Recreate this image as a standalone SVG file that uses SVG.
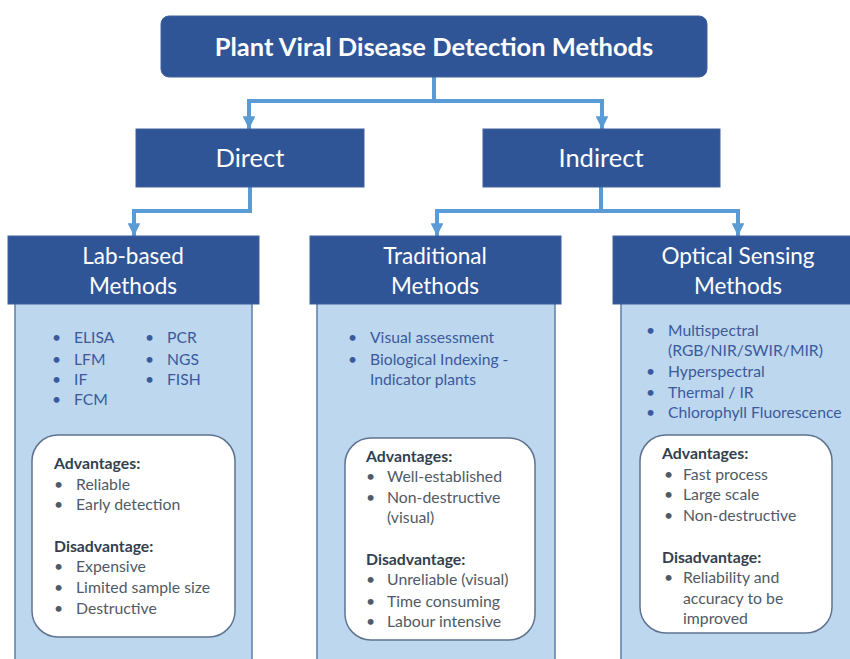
<svg xmlns="http://www.w3.org/2000/svg" width="850" height="659" viewBox="0 0 850 659">
<defs>
<marker id="arr" viewBox="0 0 10 10" refX="10" refY="5" markerWidth="3.2" markerHeight="3.2" orient="auto" markerUnits="strokeWidth">
<path d="M0,0 L10,5 L0,10 Z" fill="#5B9BD5"/>
</marker>
<style>
.hdr{fill:#2F5597;stroke:#41619E;stroke-width:1}
.panel{fill:#BDD7EE;stroke:#5E7FA8;stroke-width:1.5}
.wbox{fill:#FFFFFF;stroke:#5F7390;stroke-width:1.5}
.conn{fill:none;stroke:#5B9BD5;stroke-width:4;stroke-linejoin:miter}
text{font-family:Lato,"Open Sans","Liberation Sans",sans-serif}
.t1{font-size:25.5px;font-weight:bold;fill:#FFFFFF;text-anchor:middle}
.t2{font-size:25.5px;fill:#FFFFFF;text-anchor:middle}
.t3{font-size:22.5px;fill:#FFFFFF;text-anchor:middle}
.li{font-size:15.7px;fill:#3A5A9C}
.bh{font-size:15.8px;font-weight:bold;fill:#333F50}
.bi{font-size:15.8px;fill:#505A66}
</style>
</defs>
<rect width="850" height="659" fill="#FFFFFF"/>
<g id="connectors">
<path class="conn" d="M434,77 V101 M249,101 H602"/>
<path class="conn" d="M249,99 V129" marker-end="url(#arr)"/>
<path class="conn" d="M602,99 V129" marker-end="url(#arr)"/>
<path class="conn" d="M250,187 V211 H134 V236" marker-end="url(#arr)"/>
<path class="conn" d="M601,187 V211 M435,211 H738"/>
<path class="conn" d="M437,209 V236" marker-end="url(#arr)"/>
<path class="conn" d="M738,209 V236" marker-end="url(#arr)"/>
</g>
<g id="title">
<rect class="hdr" x="161" y="16" width="546" height="61" rx="8"/>
<text class="t1" x="434" y="56">Plant Viral Disease Detection Methods</text>
</g>
<g id="direct">
<rect class="hdr" x="136" y="129" width="228" height="58"/>
<text class="t2" x="250" y="167">Direct</text>
</g>
<g id="indirect">
<rect class="hdr" x="483" y="129" width="237" height="58"/>
<text class="t2" x="601" y="167">Indirect</text>
</g>
<g id="lab">
<rect class="panel" x="15" y="300" width="237" height="380"/>
<rect class="hdr" x="8" y="236" width="251" height="68"/>
<text class="t3" x="133" y="264">Lab-based</text>
<text class="t3" x="133" y="294">Methods</text>
<g class="li">
<text x="52" y="343">•</text><text x="74" y="343">ELISA</text>
<text x="52" y="365">•</text><text x="74" y="365">LFM</text>
<text x="52" y="385">•</text><text x="74" y="385">IF</text>
<text x="52" y="405">•</text><text x="74" y="405">FCM</text>
<text x="145" y="343">•</text><text x="167" y="343">PCR</text>
<text x="145" y="365">•</text><text x="167" y="365">NGS</text>
<text x="145" y="385">•</text><text x="167" y="385">FISH</text>
</g>
<rect class="wbox" x="32" y="435" width="203" height="202" rx="26"/>
<text class="bh" x="54" y="469">Advantages:</text>
<g class="bi">
<text x="54" y="490">•</text><text x="76" y="490">Reliable</text>
<text x="54" y="510">•</text><text x="76" y="510">Early detection</text>
</g>
<text class="bh" x="54" y="552">Disadvantage:</text>
<g class="bi">
<text x="54" y="572">•</text><text x="76" y="572">Expensive</text>
<text x="54" y="593">•</text><text x="76" y="593">Limited sample size</text>
<text x="54" y="614">•</text><text x="76" y="614">Destructive</text>
</g>
</g>
<g id="traditional">
<rect class="panel" x="317" y="300" width="238" height="380"/>
<rect class="hdr" x="310" y="236" width="251" height="68"/>
<text class="t3" x="435" y="264">Traditional</text>
<text class="t3" x="435" y="294">Methods</text>
<g class="li">
<text x="348" y="343">•</text><text x="370" y="343">Visual assessment</text>
<text x="348" y="365">•</text><text x="370" y="365">Biological Indexing -</text>
<text x="370" y="385">Indicator plants</text>
</g>
<rect class="wbox" x="345" y="438" width="190" height="202" rx="26"/>
<text class="bh" x="366" y="462">Advantages:</text>
<g class="bi">
<text x="366" y="482">•</text><text x="387" y="482">Well-established</text>
<text x="366" y="503">•</text><text x="387" y="503">Non-destructive</text>
<text x="387" y="523">(visual)</text>
</g>
<text class="bh" x="366" y="565">Disadvantage:</text>
<g class="bi">
<text x="366" y="585">•</text><text x="387" y="585">Unreliable (visual)</text>
<text x="366" y="607">•</text><text x="387" y="607">Time consuming</text>
<text x="366" y="627">•</text><text x="387" y="627">Labour intensive</text>
</g>
</g>
<g id="optical">
<rect class="panel" x="621" y="300" width="240" height="380"/>
<rect class="hdr" x="613" y="236" width="245" height="68"/>
<text class="t3" x="738" y="264">Optical Sensing</text>
<text class="t3" x="738" y="294">Methods</text>
<g class="li">
<text x="646" y="336">•</text><text x="668" y="336">Multispectral</text>
<text x="668" y="356">(RGB/NIR/SWIR/MIR)</text>
<text x="646" y="377">•</text><text x="668" y="377">Hyperspectral</text>
<text x="646" y="398">•</text><text x="668" y="398">Thermal / IR</text>
<text x="646" y="418">•</text><text x="668" y="418">Chlorophyll Fluorescence</text>
</g>
<rect class="wbox" x="640" y="435" width="192" height="198" rx="26"/>
<text class="bh" x="662" y="459">Advantages:</text>
<g class="bi">
<text x="664" y="480">•</text><text x="683" y="480">Fast process</text>
<text x="664" y="500">•</text><text x="683" y="500">Large scale</text>
<text x="664" y="521">•</text><text x="683" y="521">Non-destructive</text>
</g>
<text class="bh" x="662" y="563">Disadvantage:</text>
<g class="bi">
<text x="664" y="583">•</text><text x="683" y="583">Reliability and</text>
<text x="683" y="604">accuracy to be</text>
<text x="683" y="624">improved</text>
</g>
</g>
</svg>
